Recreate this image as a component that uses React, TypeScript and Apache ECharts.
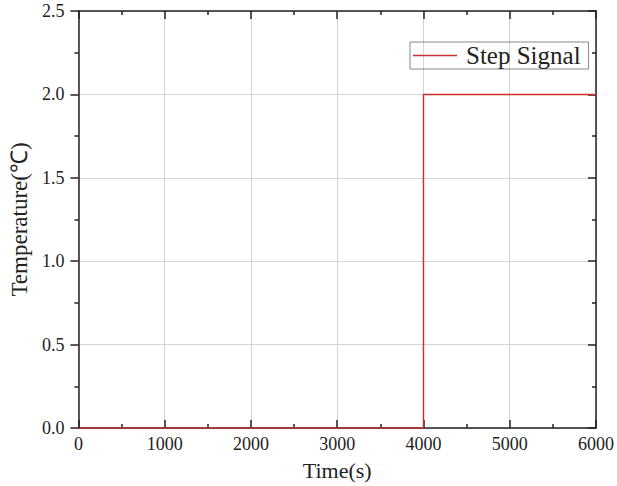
import React, { useEffect, useRef } from "react";
import * as echarts from "echarts";

const timeValues = [0, 4000, 4000, 6000];
const tempValues = [0, 0, 2, 2];
const seriesName = "Step Signal";
const xAxisName = "Time(s)";
const yAxisName = "Temperature(℃)";

const FONT = "Liberation Serif";
const RED = "#c8312f";

export default function App() {
  const ref = useRef<HTMLDivElement>(null);
  useEffect(() => {
    if (!ref.current) return;
    const chart = echarts.init(ref.current, null, { renderer: "svg" });
    const axisLine = { show: true, onZero: false, lineStyle: { color: "#222", width: 1.5 } };
    const split = { show: true, lineStyle: { color: "#d4d4d4", width: 1 } };
    const tick = (inside: boolean) => ({ show: true, inside, length: 8, lineStyle: { color: "#222", width: 1.5 } });
    const minor = { show: true, splitNumber: 2, length: 4, lineStyle: { color: "#222", width: 1.5 } };
    const xCommon = { type: "value", min: 0, max: 6000, interval: 1000 };
    const yCommon = { type: "value", min: 0, max: 2.5, interval: 0.5 };
    chart.setOption({
      animation: false,
      backgroundColor: "#fff",
      grid: { left: 76, top: 11, right: 21, bottom: 58, containLabel: false },
      legend: {
        left: 410,
        top: 42,
        orient: "horizontal",
        borderColor: "#888",
        borderWidth: 1,
        borderRadius: 0,
        padding: [1, 8, 1, 3],
        itemWidth: 44,
        itemHeight: 1.5,
        itemGap: 0,
        icon: "rect",
        itemStyle: { color: RED, borderWidth: 0 },
        textStyle: { fontFamily: FONT, fontSize: 25, color: "#222", padding: [0, 0, 0, 4] },
        data: [seriesName],
      },
      xAxis: [
        {
          ...xCommon,
          position: "bottom",
          name: xAxisName,
          nameLocation: "middle",
          nameGap: 31,
          nameTextStyle: { fontFamily: FONT, fontSize: 22, color: "#222" },
          axisLine,
          axisTick: tick(true),
          minorTick: minor,
          axisLabel: { fontFamily: FONT, fontSize: 18, color: "#222", margin: 7, formatter: (v: number) => String(v) },
          splitLine: split,
        },
        {
          ...xCommon,
          position: "top",
          axisLine,
          axisTick: tick(true),
          minorTick: minor,
          axisLabel: { show: false },
          splitLine: { show: false },
        },
      ],
      yAxis: [
        {
          ...yCommon,
          position: "left",
          name: yAxisName,
          nameLocation: "middle",
          nameGap: 45,
          nameTextStyle: { fontFamily: FONT, fontSize: 23, color: "#222" },
          axisLine,
          axisTick: tick(false),
          minorTick: minor,
          axisLabel: {
            fontFamily: FONT,
            fontSize: 18,
            color: "#222",
            margin: 14,
            formatter: (v: number) => v.toFixed(1),
          },
          splitLine: split,
        },
        {
          ...yCommon,
          position: "right",
          axisLine,
          axisTick: tick(true),
          minorTick: minor,
          axisLabel: { show: false },
          splitLine: { show: false },
        },
      ],
      series: [
        {
          name: seriesName,
          type: "line",
          xAxisIndex: 0,
          yAxisIndex: 0,
          symbol: "none",
          z: 5,
          lineStyle: { color: RED, width: 1.5 },
          itemStyle: { color: RED },
          data: timeValues.map((t, i) => [t, tempValues[i]]),
        },
      ],
    });
    return () => chart.dispose();
  }, []);
  return (
    <div
      ref={ref}
      style={{ position: "absolute", left: 0, top: 0, width: 617, height: 486, background: "#fff" }}
    />
  );
}
